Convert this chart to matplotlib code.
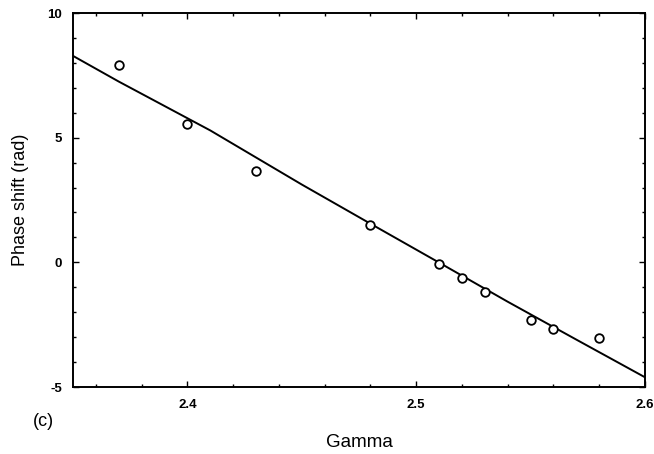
import matplotlib
matplotlib.use("Agg")
import matplotlib.pyplot as plt
from matplotlib.ticker import MultipleLocator, FixedFormatter, FixedLocator

# Measured phase shift against gamma
gamma_meas = [2.37, 2.40, 2.43, 2.48, 2.51, 2.52, 2.53, 2.55, 2.56, 2.58]
phase_meas = [7.92, 5.56, 3.68, 1.48, -0.06, -0.63, -1.19, -2.32, -2.68, -3.04]

# Calculated curve
gamma_calc = [2.35, 2.37, 2.41, 2.45, 2.48, 2.51, 2.54, 2.57, 2.60]
phase_calc = [8.28, 7.25, 5.29, 3.12, 1.55, -0.01, -1.58, -3.10, -4.61]

x_major = [2.4, 2.5, 2.6]
x_major_labels = ["2.4", "2.5", "2.6"]
y_major = [-5, 0, 5, 10]
y_major_labels = ["-5", "0", "5", "10"]

plt.rcParams["font.family"] = ["Liberation Sans", "DejaVu Sans"]

fig = plt.figure(figsize=(6.54, 4.54), dpi=100)
ax = fig.add_axes([73 / 654, 1 - 387 / 454, 572 / 654, 374 / 454])

ax.plot(gamma_calc, phase_calc, color="black", lw=1.4)
ax.plot(gamma_meas, phase_meas, linestyle="none", marker="o", markersize=6.2,
        markerfacecolor="white", markeredgecolor="black", markeredgewidth=1.3)

ax.set_xlim(2.35, 2.6)
ax.set_ylim(-5, 10)

ax.xaxis.set_major_locator(FixedLocator(x_major))
ax.xaxis.set_major_formatter(FixedFormatter(x_major_labels))
ax.xaxis.set_minor_locator(MultipleLocator(0.02))
ax.yaxis.set_major_locator(FixedLocator(y_major))
ax.yaxis.set_major_formatter(FixedFormatter(y_major_labels))
ax.yaxis.set_minor_locator(MultipleLocator(1))

ax.tick_params(which="both", direction="in", top=True, right=True, width=1.0,
               labelsize=9.5, colors="black")
ax.tick_params(which="major", length=4, pad=9)
ax.tick_params(which="minor", length=2.5)
ax.tick_params(axis="y", which="major", pad=8)
for lab in ax.get_xticklabels() + ax.get_yticklabels():
    lab.set_fontweight("bold")

for s in ax.spines.values():
    s.set_linewidth(1.4)

ax.set_xlabel("Gamma", fontsize=13.5, labelpad=16)
ax.set_ylabel("Phase shift (rad)", fontsize=13, labelpad=13)
fig.text(43 / 654, 1 - 422 / 454, "(c)", fontsize=13, ha="center", va="center")

fig.savefig("out.png", dpi=100)
